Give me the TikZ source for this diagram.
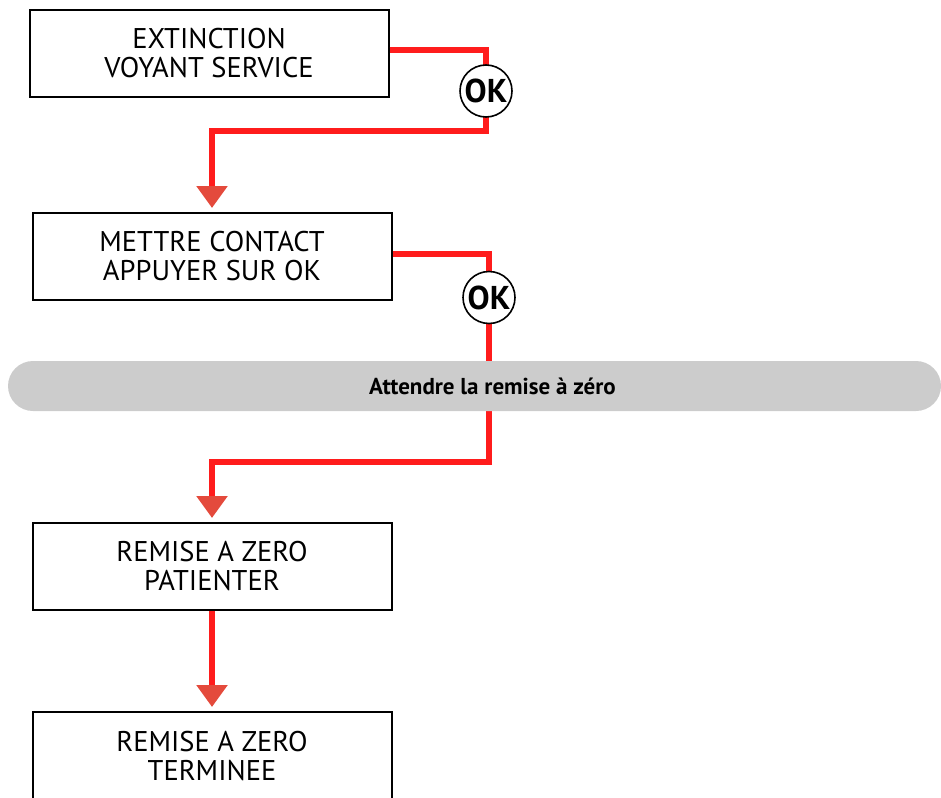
\documentclass[tikz,border=0pt]{standalone}
\usepackage{fontspec}
\usepackage{xcolor}
\usetikzlibrary{arrows.meta}
\setmainfont{PT Sans}
\definecolor{flowRed}{RGB}{255,28,28}
\definecolor{tipRed}{RGB}{228,74,60}
\definecolor{pillGray}{RGB}{204,204,204}
\colorlet{strokeColor}{black}
\colorlet{textColor}{black}

\begin{document}
\begin{tikzpicture}[
    x=1pt, y=-1pt,
    stepbox/.style={draw=strokeColor, line width=2pt, fill=white,
      minimum width=359pt, minimum height=87pt, align=center,
      text=textColor, font=\fontsize{28.5}{29}\selectfont},
    okbadge/.style={circle, draw=strokeColor, line width=1.6pt, fill=white,
      minimum size=52pt, inner sep=0pt, font=\fontsize{33}{33}\selectfont\bfseries},
    flow/.style={draw=flowRed, line width=6pt},
    flowto/.style={flow, shorten >=4pt,
      -{Triangle[width=30pt, length=22pt, color=tipRed, fill=tipRed]}},
  ]
    \useasboundingbox (0, 0) rectangle (941, 797);

    % steps
    \node[stepbox] (off) at (209, 53.5) {EXTINCTION\\VOYANT SERVICE};
    \node[stepbox] (ignition) at (212, 256.5) {METTRE CONTACT\\APPUYER SUR OK};
    \node[stepbox] (reset) at (212, 566.5) {REMISE A ZERO\\PATIENTER};
    \node[stepbox] (done) at (212, 755.5) {REMISE A ZERO\\TERMINEE};

    \coordinate (bendA) at (486, 131);
    \coordinate (bendB) at (489, 462);

    % connectors
    \draw[flow] ([yshift=3.5pt]off.east) -| (486, 91);
    \draw[flowto] (486, 91) -- (bendA) -| (ignition.north);
    \draw[flow] ([yshift=2.5pt]ignition.east) -| (489, 297.5);
    \draw[flowto] (489, 297.5) -- (bendB) -| (reset.north);
    \draw[flowto] (reset.south) -- (done.north);

    % badges
    \node[okbadge] (okA) at (486, 91) {OK};
    \node[okbadge] (okB) at (489, 297.5) {OK};

    % waiting band
    \node[fill=pillGray, rounded corners=25pt, minimum width=933pt,
      minimum height=50pt, inner sep=0pt] (wait) at (474.5, 386) {};
    \node[font=\fontsize{23}{23}\selectfont\bfseries, text=textColor]
      (waitText) at ([xshift=18pt]wait.center) {Attendre la remise à zéro};
  \end{tikzpicture}
\end{document}
